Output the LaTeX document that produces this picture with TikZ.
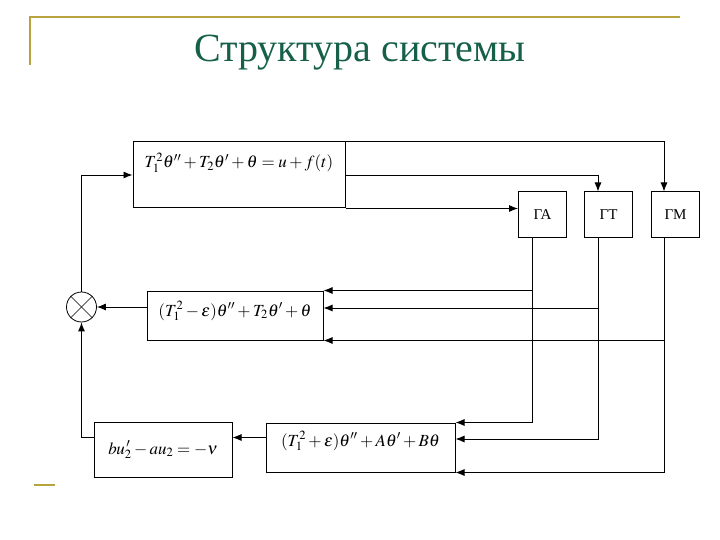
\documentclass[tikz,border=0pt]{standalone}
\usepackage{mathptmx}
\usepackage{fontspec}
\setmainfont{Liberation Serif}
\usetikzlibrary{arrows.meta, calc}
\definecolor{titlegreen}{HTML}{16604A}
\definecolor{framegold}{HTML}{B8A43E}

\begin{document}
\begin{tikzpicture}[x=1pt, y=-1pt, >={Latex[length=9pt,width=7pt]},
    box/.style={draw, line width=1pt, inner sep=0pt, font=\fontsize{17}{20}\selectfont},
    gbox/.style={draw, line width=1pt, inner sep=0pt, minimum width=48pt, minimum height=45pt, font=\fontsize{15}{17}\selectfont},
    conn/.style={line width=0.9pt}]
    \useasboundingbox (0,0) rectangle (720,540);

    % Title and frame
    \draw[framegold, line width=2pt] (30,65) -- (30,17) -- (680,17);
    \draw[framegold, line width=2pt] (34,485) -- (55,485);
    \node[titlegreen, font=\fontsize{40}{42}\selectfont] (title) at (360,53) {Структура системы};

    % Blocks
    \node[box, minimum width=212pt, text height=26pt, text depth=40pt] (eqA) at (239,175)
        {$T_1^2\theta''+T_2\theta'+\theta=u+f(t)$};
    \node[gbox] (ga) at (542.5,214.5) {ГА};
    \node[gbox] (gt) at (608.5,214.5) {ГТ};
    \node[gbox] (gm) at (675.5,214.5) {ГМ};
    \node[box, minimum width=176pt, text height=25pt, text depth=24pt] (eqB) at (235,315.5)
        {$(T_1^2-\varepsilon)\theta''+T_2\theta'+\theta$};
    \node[box, minimum width=189pt, text height=23pt, text depth=26pt] (eqC) at (360.5,447.5)
        {$(T_1^2+\varepsilon)\theta''+A\theta'+B\theta$};
    \node[box, minimum width=138pt, text height=32pt, text depth=23pt] (eqD) at (163,449.5)
        {$bu_2^{\,\prime}-au_2=-\nu$};

    % Summing junction
    \node[draw, circle, line width=0.8pt, minimum size=30pt, inner sep=0pt] (sum) at (81.5,307) {};
    \draw[line width=0.6pt] (sum.north west) -- (sum.south east);
    \draw[line width=0.6pt] (sum.north east) -- (sum.south west);

    % Outputs of the first block
    \draw[conn, ->] (eqA.north east) -| ([xshift=-11.5pt]gm.north);
    \draw[conn, ->] (eqA.east) -| ([xshift=-10.5pt]gt.north);
    \draw[conn, ->] (eqA.south east) -- (eqA.south east -| ga.west);

    % Sensor lines
    \draw[conn, ->] ([xshift=-10.5pt]ga.south) |- (eqC.north east);
    \draw[conn, ->] ([xshift=-10.5pt]ga.south) |- (eqB.north east);
    \draw[conn, ->] ([xshift=-10.5pt]gt.south) |- ([yshift=8.5pt]eqC.east);
    \draw[conn, ->] ([xshift=-10.5pt]gt.south) |- ([yshift=7.5pt]eqB.east);
    \draw[conn, ->] ([xshift=-11.5pt]gm.south) |- (eqC.south east);
    \draw[conn, ->] ([xshift=-11.5pt]gm.south) |- (eqB.south east);

    % Feedback paths
    \draw[conn, ->] (sum.east -| eqB.west) -- (sum.east);
    \draw[conn, ->] ([yshift=10pt]eqC.west) -- ([yshift=10pt]eqC.west -| eqD.east);
    \draw[conn, ->] ([yshift=12pt]eqD.west) -| (sum.south);
    \draw[conn, ->] (sum.north) |- (eqA.west);
\end{tikzpicture}
\end{document}
